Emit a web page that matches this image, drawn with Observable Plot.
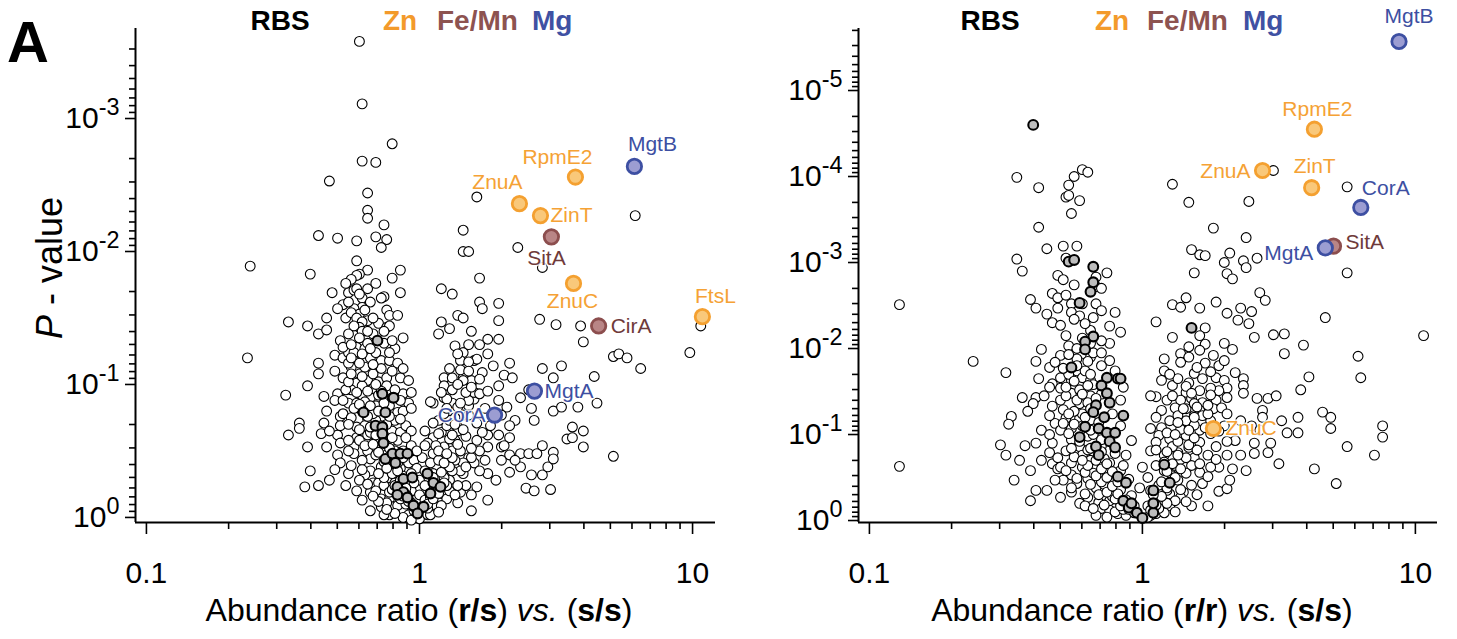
<!DOCTYPE html>
<html><head><meta charset="utf-8">
<script src="https://cdn.jsdelivr.net/npm/d3@7"></script>
<script src="https://cdn.jsdelivr.net/npm/@observablehq/plot@0.6"></script>
<style>
body{margin:0;background:#fff;}
#wrap{display:flex;width:1457px;height:639px;overflow:hidden;background:#fff;}
#wrap svg{background:none !important;}
</style></head><body><div id="wrap"></div>
<script>
// Values are [log10 abundance ratio, -log10 P]
const leftOpen = [
[-0.22,3.58],[-0.21,3.11],[-0.10,2.81],[-0.21,2.68],[-0.16,2.67],[-0.33,2.53],[-0.19,2.44],[-0.19,2.31],[-0.19,2.25],[-0.13,2.20],[-0.37,2.12],[-0.30,2.10],[-0.23,2.08],[-0.16,2.11],[-0.12,2.09],[-0.14,2.03],[0.21,2.41],[0.79,2.27],[0.16,2.16],[0.16,2.00],[0.18,2.00],[0.36,2.03],[0.45,1.88],[-0.62,1.89],[-0.40,1.83],[-0.07,1.86],[-0.10,1.80],[0.22,1.80],[-0.07,1.69],[0.08,1.72],[0.12,1.68],[0.22,1.62],[0.23,1.57],[0.29,1.61],[0.14,1.52],[0.16,1.50],[0.08,1.47],[0.29,1.48],[0.44,1.49],[0.50,1.45],[0.59,1.44],[1.03,1.44],[0.99,1.24],[0.71,1.21],[0.73,1.23],[0.76,1.20],[0.81,1.12],[0.60,1.32],[0.48,0.21],[0.71,0.46],
[-0.23,1.93],[-0.19,1.86],[-0.22,1.83],[-0.23,1.82],[-0.25,1.79],[-0.19,1.72],[-0.26,1.69],[-0.32,1.69],[-0.24,1.71],[-0.13,1.66],[-0.14,1.65],[-0.21,1.65],[-0.21,1.58],[-0.24,1.57],[-0.27,1.50],[-0.34,1.50],[-0.48,1.47],[-0.41,1.44],[-0.12,1.56],[-0.11,1.52],[-0.15,1.46],[-0.19,1.48],[-0.22,1.53],[-0.22,1.46],[-0.23,1.72],[-0.25,1.54],[-0.23,1.50],[-0.21,1.47],[-0.22,1.43],[-0.08,1.52],[-0.12,1.43],[-0.11,1.44],[-0.37,1.38],[-0.34,1.41],
[-0.29,1.33],[-0.23,1.28],[-0.31,1.22],[-0.28,1.20],[-0.24,1.18],[-0.20,1.27],[-0.13,1.31],[-0.09,1.27],[-0.06,1.35],[-0.10,1.33],[-0.25,1.13],[-0.22,1.08],[-0.18,1.20],[-0.14,1.18],[-0.11,1.18],[-0.08,1.16],[-0.37,1.16],[-0.37,1.08],[-0.28,1.05],[-0.23,1.01],[-0.19,1.03],[-0.15,1.02],[-0.12,1.05],[-0.07,1.05],[-0.04,1.03],[-0.41,0.99],[0.13,1.29],[0.16,1.24],[0.20,1.18],[0.15,1.18],[0.09,1.05],[0.12,1.05],[0.16,1.05],[0.09,0.99],[0.19,1.01],[0.21,0.93],[-0.19,1.31],[-0.63,1.20],[-0.26,1.24],[-0.30,0.93],[-0.49,0.92],[-0.35,0.91],[-0.25,0.96],[-0.34,0.80],[-0.29,0.76],[-0.44,0.71],[-0.44,0.67],[-0.35,0.71],[-0.48,0.62],[-0.36,0.63],[-0.34,0.53],[-0.41,0.53],[-0.30,0.62],[-0.30,0.47],[-0.29,0.41],[-0.31,0.36],[-0.40,0.35],[-0.26,0.33],[-0.42,0.23],[-0.37,0.24],[-0.18,0.19],[-0.14,0.08],[-0.17,0.26],[-0.23,0.20],[-0.27,0.96],[-0.22,0.93],[-0.26,0.86],[-0.23,0.86],[-0.18,0.90],[-0.06,0.93],[-0.04,0.86],[-0.28,0.78],[-0.25,0.75],[-0.19,0.74],[-0.08,0.79],[-0.06,0.80],[-0.29,0.69],[-0.23,0.68],[-0.23,0.60],[-0.19,0.62],[-0.10,0.65],[-0.07,0.64],[0.02,0.65],[0.05,0.60],[0.08,0.64],[0.10,0.69],[0.14,0.68],[0.05,0.86],[0.09,0.90],[0.12,0.86],[0.18,0.84],[0.20,0.89],[-0.29,0.56],[-0.24,0.53],[-0.19,0.50],[-0.11,0.56],[-0.06,0.50],[-0.24,0.48],[-0.18,0.44],[-0.04,0.41],[-0.02,0.43],[0.01,0.45],[0.05,0.48],[0.09,0.45],[0.12,0.50],[0.18,0.45],[0.20,0.41],[-0.18,0.35],[-0.14,0.38],[-0.07,0.37],[0.08,0.30],[0.11,0.28],[0.16,0.33],[-0.11,0.30],[-0.15,0.26],[-0.13,0.24],[-0.14,0.14],[-0.11,0.14],[-0.01,0.14],[0.08,0.18],[0.10,0.14],[-0.10,0.08],[-0.06,0.05],[0.05,0.07],[-0.04,0.02],[0.00,-0.01],[0.03,0.02],
[0.14,1.23],[0.25,1.34],[0.29,1.34],[0.25,1.23],[0.33,1.16],[0.21,1.19],[0.18,1.17],[0.15,1.11],[0.23,1.09],[0.45,1.12],[0.52,1.14],[0.49,1.05],[0.64,1.06],[0.19,1.03],[0.31,1.07],[0.34,1.05],[0.29,0.99],[0.37,0.90],[0.40,0.96],[0.04,0.87],[0.10,0.89],[0.18,0.88],[0.20,0.94],[0.22,0.93],[0.29,0.88],[0.32,0.83],[0.41,0.82],[0.49,0.80],[0.52,0.83],[0.58,0.83],[0.65,0.86],[0.42,0.73],[0.35,0.73],[0.56,0.68],[0.60,0.65],[0.54,0.59],[0.56,0.60],[0.60,0.53],[0.07,0.63],[0.25,0.62],[0.29,0.62],[0.33,0.60],[0.25,0.53],[0.30,0.53],[0.33,0.47],[0.37,0.48],[0.40,0.48],[0.43,0.48],[0.45,0.54],[0.49,0.49],[0.22,0.50],[0.19,0.45],[0.16,0.41],[0.33,0.34],[0.37,0.38],[0.41,0.32],[0.45,0.32],[0.47,0.38],[0.49,0.44],[0.25,0.33],[0.21,0.23],[0.15,0.19],[0.14,0.11],[0.04,0.11],[0.10,0.23],[0.05,0.33],[0.11,0.43],[0.09,0.53],[0.03,0.56],[0.07,0.73],[0.11,0.73],[0.14,0.65],[0.16,0.77],[0.21,0.71],[0.14,0.83],[0.08,0.94],[0.16,1.03]
];
const leftOpenCore = [
[-0.17,0.97],[-0.12,0.99],[-0.09,0.96],[-0.03,0.94],[-0.21,0.92],[-0.16,0.84],[-0.11,0.84],[-0.07,0.88],[-0.03,0.82],[-0.20,0.69],[-0.18,0.64],[-0.09,0.73],[-0.05,0.69],[-0.03,0.65],[-0.22,0.58],[-0.16,0.58],[-0.08,0.58],[-0.03,0.54],[-0.01,0.50],[-0.21,0.43],[-0.16,0.47],[-0.11,0.39],[-0.08,0.41],[-0.01,0.37],[-0.20,0.32],[-0.12,0.34],[-0.09,0.26],[-0.04,0.24],[0.00,0.28],[-0.16,0.20],[-0.11,0.19],[-0.03,0.20],[0.00,0.17],[-0.12,0.11],[-0.08,0.09],[-0.03,0.11],[0.00,0.07],[0.02,0.13],[-0.06,0.00],[-0.03,-0.02],[0.04,0.02],[0.06,0.09],[0.11,0.20],[0.10,0.37],[0.04,0.41],[0.02,0.54],[0.06,0.54],[0.13,0.58],[0.15,0.35],[0.02,0.24],[-0.31,0.88],[-0.33,0.65],[-0.26,0.58],[-0.25,0.39],[-0.22,0.28],[-0.21,0.13],[-0.18,0.05],[-0.11,0.02],[-0.27,0.24],[-0.33,0.28],
[0.02,0.35],[0.07,0.43],[0.10,0.24],[0.13,0.17],[0.17,0.24],[0.08,0.09],[0.03,0.07],[0.07,0.04],[0.19,0.17],[0.22,0.35],[0.21,0.58],[0.24,0.43],[0.28,0.28],[0.30,0.43],[0.26,0.69],[0.30,0.77],[0.33,0.69],[0.31,0.54],[0.35,0.43],[0.39,0.22],[0.42,0.20],[0.25,0.13],[0.19,0.05],
[-0.13,0.02],[-0.09,0.03],[-0.05,0.10],[-0.02,0.05],[-0.12,0.06],[-0.15,0.12],[-0.07,0.14],[-0.10,0.21],[-0.05,0.18],[-0.02,0.26],[-0.13,0.30],[-0.17,0.16],[-0.19,0.25],[-0.06,0.31],[-0.03,0.33],[-0.15,0.33],[-0.21,0.36],[-0.13,0.42],[-0.06,0.45],[-0.09,0.50],[-0.14,0.52],[-0.20,0.54],[-0.26,0.50],[-0.12,0.60],[-0.05,0.60],[-0.14,0.65],[-0.22,0.66],[-0.26,0.70],[-0.16,0.73],[-0.12,0.70],[-0.07,0.74],[-0.21,0.80],[-0.17,0.78],[-0.13,0.86],[-0.20,0.87],[-0.24,0.82],[-0.28,0.88],[-0.15,0.92],[-0.10,0.90],[-0.26,1.02],[-0.21,0.99],[-0.17,1.08],[-0.10,1.10],[-0.06,1.12],[-0.20,1.13],[-0.26,1.16],[-0.31,1.10],[-0.16,1.24],[-0.24,1.24],[-0.28,1.28],[-0.11,1.24],[-0.17,1.38],[-0.21,1.40],[-0.26,1.38],[-0.13,1.40],[-0.28,1.60],[-0.18,1.62],[-0.16,1.76],[-0.27,1.76],[-0.30,1.57],
[0.04,0.15],[0.06,0.20],[0.09,0.30],[0.12,0.35],[0.05,0.30],[0.14,0.24],[0.17,0.38],[0.13,0.43],[0.07,0.50],[0.15,0.50],[0.19,0.52],[0.11,0.59],[0.17,0.61],[0.23,0.64],[0.05,0.71],[0.09,0.78],[0.13,0.75],[0.18,0.77],[0.24,0.82],[0.27,0.76],[0.12,0.96],[0.17,0.94],[0.25,0.95],[0.11,1.12],[0.18,1.10],[0.27,1.14],[0.07,1.38],[0.11,1.42],[0.19,1.40],
[-0.02,0.08],[-0.04,0.12],[-0.06,0.16],[-0.08,0.18],[-0.05,0.22],[-0.09,0.24],[-0.07,0.28],[-0.10,0.33],[-0.08,0.35],[-0.12,0.37],[-0.10,0.44],[-0.12,0.47],[-0.15,0.49],[-0.11,0.52],[-0.17,0.55],[-0.13,0.57],[-0.10,0.60],[-0.16,0.62],[-0.18,0.68],[-0.14,0.69],[-0.11,0.76],[-0.19,0.76],[-0.15,0.80],[-0.18,0.84],[-0.22,0.85],[-0.14,0.95],[-0.19,0.95],[-0.23,0.94],[-0.16,1.00],[-0.21,1.06],[-0.25,1.08],[-0.14,1.12],[-0.22,1.16],[-0.17,1.15],[-0.25,1.20],[-0.21,1.23],[-0.18,1.27],[-0.25,1.30],[-0.22,1.35],[-0.19,1.40],[-0.24,1.44],[-0.17,1.50],[-0.20,1.56],[-0.26,1.62],[-0.22,1.68],
[0.03,0.10],[0.05,0.14],[0.07,0.18],[0.06,0.25],[0.09,0.26],[0.08,0.34],[0.11,0.38],[0.09,0.41],[0.12,0.45],[0.10,0.48],[0.14,0.55],[0.12,0.62],[0.16,0.66],[0.13,0.70],[0.10,0.82],[0.15,0.86],[0.19,0.98],[0.14,1.00],[0.22,1.04],[0.18,1.30],[0.22,1.30]
];
const leftRBS = [
[-0.154,1.33],[-0.136,0.93],[-0.095,0.90],[-0.205,0.79],[-0.125,0.79],[-0.161,0.69],[-0.136,0.68],[-0.136,0.63],[-0.132,0.56],[-0.125,0.44],[-0.099,0.48],[-0.070,0.48],[-0.044,0.48],[-0.088,0.41],[-0.059,0.29],[-0.026,0.30],[0.029,0.33],[0.051,0.26],[-0.081,0.23],[-0.059,0.19],[-0.081,0.17],[-0.044,0.15],[0.040,0.18],[0.077,0.23],[-0.022,0.09],[0.015,0.08],[-0.007,0.03]
];
const leftMarked = [
{name:"RpmE2",group:"Zn",lr:0.571,nlp:2.56},
{name:"ZnuA",group:"Zn",lr:0.366,nlp:2.36},
{name:"ZinT",group:"Zn",lr:0.443,nlp:2.27},
{name:"ZnuC",group:"Zn",lr:0.564,nlp:1.76},
{name:"FtsL",group:"Zn",lr:1.036,nlp:1.51},
{name:"SitA",group:"FeMn",lr:0.483,nlp:2.11},
{name:"CirA",group:"FeMn",lr:0.656,nlp:1.44},
{name:"MgtB",group:"Mg",lr:0.787,nlp:2.64},
{name:"MgtA",group:"Mg",lr:0.421,nlp:0.95},
{name:"CorA",group:"Mg",lr:0.275,nlp:0.77}
];
const rightOpen = [
[-0.46,3.99],[-0.38,3.87],[-0.25,4.00],[-0.22,4.08],[-0.20,4.05],[-0.27,3.90],[-0.28,3.76],[-0.27,3.78],[-0.23,3.72],[-0.26,3.57],[-0.38,3.41],[-0.29,3.19],[-0.24,3.19],[-0.35,3.16],[-0.28,3.05],[-0.46,3.04],[-0.44,2.90],[-0.13,2.88],[-0.31,2.85],[-0.29,2.80],[-0.25,2.74],[-0.17,2.72],[-0.17,2.83],[-0.33,2.64],[-0.31,2.59],[-0.41,2.57],[-0.39,2.47],[-0.31,2.47],[-0.26,2.52],[-0.22,2.52],[-0.17,2.52],[-0.15,2.44],[-0.10,2.42],[-0.26,2.42],[-0.18,2.36],[-0.23,2.38],[-0.33,2.30],[-0.25,2.34],[-0.08,2.19],[-0.89,2.51],
[-0.12,2.06],[-0.37,1.99],[-0.39,1.85],[-0.62,1.85],[-0.50,1.72],[-0.34,1.78],[-0.38,1.65],[-0.33,1.59],[-0.30,1.66],[-0.30,1.54],[-0.26,1.63],[-0.24,1.74],[-0.22,1.66],[-0.22,1.83],[-0.19,1.90],[-0.18,1.95],[-0.12,1.86],[-0.07,1.55],[-0.26,1.48],[-0.23,1.36],[-0.29,1.29],[-0.44,1.43],[-0.39,1.43],[-0.40,1.36],[-0.42,1.27],[-0.48,1.21],[-0.49,1.12],[-0.32,1.13],[-0.30,1.05],[-0.26,1.07],[-0.23,1.19],[-0.22,1.24],[-0.20,0.98],[-0.52,0.88],[-0.39,0.90],[-0.26,0.94],[-0.23,0.86],[-0.34,0.79],[-0.37,0.70],[-0.33,0.66],[-0.31,0.60],[-0.26,0.67],[-0.22,0.76],[-0.26,0.53],[-0.22,0.62],[-0.18,0.62],[-0.20,0.49],[-0.89,0.63],[-0.35,0.35],[-0.26,0.33],[-0.24,0.43],[-0.20,0.27],[-0.23,0.20],[-0.16,0.21],[-0.15,0.14],[-0.12,0.12],[-0.09,0.08],[-0.08,0.21],[-0.12,0.38],[-0.17,0.38],[-0.18,0.55],[-0.15,0.49],[-0.26,0.38],[-0.29,0.47],[-0.30,0.62],
[0.11,3.91],[0.17,3.70],[0.39,3.71],[0.48,4.07],[0.75,3.88],[0.26,3.40],[0.38,3.29],[0.18,3.15],[0.21,3.09],[0.23,3.08],[0.32,3.11],[0.30,3.00],[0.37,3.02],[0.38,2.94],[0.42,3.05],[0.31,2.87],[0.33,2.81],[0.19,2.88],[0.75,2.88],[0.43,2.65],[0.45,2.56],[0.16,2.59],[0.11,2.51],[0.14,2.48],[0.21,2.47],[0.27,2.54],[0.36,2.47],[0.40,2.43],[0.31,2.41],[0.35,2.33],[0.39,2.29],[0.05,2.31],[0.67,2.36],[-0.15,2.70],
[0.23,2.24],[0.11,2.13],[0.21,2.15],[0.23,2.05],[0.17,2.02],[0.41,2.13],[0.48,2.16],[0.52,2.17],[0.52,1.94],[0.59,2.04],[0.79,1.91],[1.03,2.15],[0.80,1.66],[0.61,1.67],[0.58,1.52],[0.30,2.06],[0.33,1.99],[0.26,1.92],[0.28,1.80],[0.23,1.83],[0.14,1.94],[0.08,1.88],[0.14,1.84],[0.19,1.71],[0.07,1.63],[0.11,1.57],[0.13,1.65],[0.17,1.60],[0.22,1.65],[0.27,1.66],[0.30,1.63],[0.31,1.54],[0.28,1.51],[0.25,1.54],[0.21,1.51],[0.16,1.49],[0.05,1.44],[0.09,1.40],[0.14,1.40],[0.18,1.42],[0.22,1.37],[0.27,1.40],[0.31,1.43],[0.37,1.65],[0.37,1.57],[0.37,1.48],[0.42,1.42],[0.46,1.42],[0.49,1.45],[0.07,1.28],[0.12,1.31],[0.16,1.30],[0.21,1.28],[0.26,1.30],[0.29,1.31],[0.31,1.24],[0.44,1.28],[0.44,1.20],[0.51,1.16],[0.53,1.02],[0.57,1.02],[0.57,1.20],[0.66,1.26],[0.69,1.20],[0.69,1.07],[0.88,1.10],[0.88,0.97],[0.75,0.86],[0.85,0.76],[0.63,0.60],[0.71,0.43],[0.50,0.66],[0.41,0.78],[0.46,0.79],[0.47,0.90],[0.41,0.90],[0.03,1.07],[0.07,1.08],[0.06,0.99],[0.05,0.91],[0.10,0.95],[0.16,0.99],[0.21,1.05],[0.25,1.01],[0.21,0.91],[0.17,0.85],[0.13,0.79],[0.19,0.73],[0.24,0.76],[0.28,0.62],[0.31,0.76],[0.33,0.60],[0.25,0.62],[0.21,0.56],[0.22,0.43],[0.18,0.41],[0.13,0.47],[0.15,0.33],[0.10,0.31],[0.07,0.23],[0.10,0.17],[0.14,0.27],[0.24,0.17],[0.28,0.34],[0.31,0.37],[0.32,0.47],[0.02,0.17],[0.05,0.08],[0.00,0.62],[0.02,0.50],[-0.01,0.38]
];
const rightOpenCore = [
[-0.19,2.21],[-0.15,2.09],[-0.28,2.15],[-0.25,1.98],[-0.30,1.92],[-0.15,1.80],[-0.10,1.74],[-0.19,1.63],[-0.36,1.45],[-0.30,1.40],[-0.19,1.45],[-0.08,1.40],[-0.34,1.22],[-0.28,1.19],[-0.17,1.10],[-0.08,1.10],[-0.04,0.93],[-0.37,1.05],[-0.43,0.87],[-0.15,0.87],[-0.06,0.76],[-0.28,0.81],[-0.12,0.67],[-0.41,0.58],[-0.08,0.58],[-0.32,0.47],[-0.39,0.35],[-0.30,0.27],[-0.21,0.17],[-0.12,0.23],[-0.04,0.29],[-0.06,0.06],[-0.03,0.17],[-0.17,0.06],[-0.41,0.23],[-0.47,0.47],[-0.45,0.70],[-0.50,0.76],
[0.03,0.81],[0.05,0.64],[0.08,0.58],[0.12,0.64],[0.18,0.64],[0.08,0.76],[0.03,0.35],[0.06,0.41],[0.12,0.23],[0.18,0.17],[0.05,0.26],[0.03,0.06],[0.08,0.09],[0.10,1.16],[0.16,1.16],[0.19,1.22],[0.25,1.16],[0.30,1.10],[0.34,0.93],[0.36,0.76],[0.38,0.58],[0.08,1.74],[0.03,1.45],[0.36,1.16],[0.40,1.10],[0.43,1.05],
[-0.13,0.04],[-0.10,0.10],[-0.07,0.13],[-0.14,0.18],[-0.18,0.14],[-0.11,0.28],[-0.16,0.30],[-0.21,0.31],[-0.08,0.36],[-0.14,0.42],[-0.19,0.42],[-0.24,0.49],[-0.11,0.46],[-0.05,0.48],[-0.13,0.55],[-0.21,0.56],[-0.28,0.58],[-0.07,0.64],[-0.14,0.72],[-0.19,0.70],[-0.25,0.74],[-0.31,0.73],[-0.10,0.78],[-0.20,0.82],[-0.26,0.84],[-0.33,0.90],[-0.12,0.98],[-0.18,1.00],[-0.27,1.01],[-0.34,1.00],[-0.22,1.10],[-0.29,1.13],[-0.19,1.17],[-0.11,1.24],[-0.25,1.27],[-0.33,1.33],[-0.20,1.37],[-0.28,1.45],[-0.15,1.47],[-0.23,1.52],[-0.34,1.55],[-0.18,1.58],[-0.27,1.70],[-0.21,1.74],[-0.32,1.84],[-0.24,1.88],[-0.15,1.95],[-0.27,2.03],[-0.22,2.12],[-0.12,2.26],[-0.30,2.27],[-0.21,2.29],[-0.35,2.40],[-0.28,2.62],
[0.02,0.04],[0.06,0.14],[0.09,0.20],[0.12,0.10],[0.14,0.36],[0.16,0.22],[0.09,0.35],[0.20,0.30],[0.11,0.52],[0.16,0.55],[0.24,0.51],[0.08,0.68],[0.14,0.71],[0.21,0.66],[0.27,0.71],[0.05,0.82],[0.11,0.86],[0.20,0.82],[0.27,0.86],[0.31,0.92],[0.09,1.02],[0.14,1.06],[0.19,1.11],[0.28,1.04],[0.05,1.20],[0.13,1.22],[0.22,1.22],[0.11,1.45],[0.19,1.36],[0.25,1.46],[0.16,1.56],[0.10,1.70],[0.20,1.78],[0.17,1.90],[0.25,1.73],[0.34,1.72],[0.21,1.98],[0.30,1.86],
[-0.03,0.09],[-0.05,0.13],[-0.08,0.17],[-0.06,0.24],[-0.10,0.25],[-0.09,0.31],[-0.13,0.33],[-0.11,0.40],[-0.15,0.45],[-0.09,0.45],[-0.13,0.50],[-0.17,0.52],[-0.11,0.57],[-0.15,0.60],[-0.20,0.64],[-0.13,0.66],[-0.17,0.70],[-0.22,0.70],[-0.15,0.80],[-0.19,0.84],[-0.23,0.92],[-0.15,0.94],[-0.19,1.05],[-0.25,1.12],[-0.16,1.14],[-0.21,1.20],[-0.27,1.24],[-0.19,1.30],[-0.24,1.40],[-0.17,1.42],[-0.22,1.47],[-0.28,1.55],[-0.20,1.57],[-0.25,1.62],[-0.19,1.70],[-0.29,1.77],[-0.24,1.80],[-0.20,1.85],[-0.27,1.93],[-0.24,2.00],[-0.19,2.06],
[0.03,0.12],[0.05,0.18],[0.07,0.28],[0.04,0.30],[0.09,0.38],[0.07,0.45],[0.12,0.50],[0.09,0.57],[0.14,0.60],[0.11,0.66],[0.16,0.73],[0.13,0.76],[0.09,0.80],[0.17,0.88],[0.13,0.92],[0.19,0.96],[0.12,1.00],[0.17,1.05],[0.23,1.08],[0.13,1.14],[0.19,1.20],[0.24,1.24],[0.15,1.30],[0.20,1.32],[0.24,1.34],[0.18,1.48]
];
const rightRBS = [
[-0.40,4.60],[-0.27,3.01],[-0.25,3.03],[-0.18,2.95],[-0.18,2.77],[-0.19,2.66],[-0.23,2.53],[-0.18,2.14],[-0.21,2.08],[-0.21,1.99],[-0.26,1.78],[-0.13,1.66],[-0.09,1.65],[-0.15,1.57],[-0.13,1.48],[-0.12,1.37],[-0.17,1.34],[-0.18,1.26],[-0.14,1.20],[-0.07,1.22],[-0.21,1.09],[-0.16,1.07],[-0.13,1.02],[-0.10,1.02],[-0.23,0.97],[-0.12,0.92],[-0.17,0.86],[-0.10,0.85],[-0.16,0.76],[-0.09,0.51],[-0.06,0.44],[-0.07,0.23],[-0.05,0.15],[0.18,2.24],[-0.08,1.65],[0.08,0.65],[0.10,0.44],[0.04,0.35],[-0.04,0.20],[-0.02,0.09],[0.04,0.09],[0.04,0.20],[0.00,0.03]
];
const rightMarked = [
{name:"RpmE2",group:"Zn",lr:0.63,nlp:4.55},
{name:"ZnuA",group:"Zn",lr:0.44,nlp:4.07},
{name:"ZinT",group:"Zn",lr:0.62,nlp:3.87},
{name:"ZnuC",group:"Zn",lr:0.26,nlp:1.07},
{name:"SitA",group:"FeMn",lr:0.70,nlp:3.19},
{name:"MgtB",group:"Mg",lr:0.94,nlp:5.57},
{name:"CorA",group:"Mg",lr:0.80,nlp:3.64},
{name:"MgtA",group:"Mg",lr:0.67,nlp:3.17}
];
const xMajorTicks = [0.1, 1, 10];
const xTickLabels = ["0.1", "1", "10"];
const xMinorTicks = [0.2,0.3,0.4,0.5,0.6,0.7,0.8,0.9,2,3,4,5,6,7,8,9];
const leftYMajor = [1, 0.1, 0.01, 0.001];
const rightYMajor = [1, 0.1, 0.01, 0.001, 0.0001, 0.00001];
const legendGroups = ["RBS", "Zn", "Fe/Mn", "Mg"];

// ---------- styles & layout ----------
const FONT = "'Liberation Sans', Arial, Helvetica, sans-serif";
const groupStyle = {
  Zn:   {fill:"#f9c87a", stroke:"#f4a030", text:"#f5a235"},
  FeMn: {fill:"#b98586", stroke:"#8c4e4e", text:"#6f3a3a"},
  Mg:   {fill:"#9c9dd2", stroke:"#3d4fa2", text:"#3d4fa2"}
};
const legendColor = {"RBS":"#000000","Zn":"#f39a2b","Fe/Mn":"#8d5350","Mg":"#3f51a3"};
function minorLogTicks(lo, hi) {
  const out = [];
  for (let e = -7; e <= 1; e++) for (let k = 2; k <= 9; k++) {
    const v = k * 10 ** e; if (v >= lo && v <= hi) out.push(v);
  }
  return out;
}
const panels = [
  {
    width: 729, marginLeft: 135, marginRight: 14,
    xDomain: [10 ** -1.040, 10 ** 1.084], yDomain: [10 ** 0.038, 10 ** -3.677],
    open: leftOpen.concat(leftOpenCore), rbs: leftRBS, marked: leftMarked, yMajor: leftYMajor,
    xTitle: ["r/s", "s/s"], panelLetter: "A",
    legendX: {"RBS": [280, "middle"], "Zn": [383, "start"], "Fe/Mn": [437, "start"], "Mg": [532, "start"]},
    labels: {
      MgtB:{dx:18,dy:-22,a:"middle"}, RpmE2:{dx:-18,dy:-20,a:"middle"}, ZnuA:{dx:-22,dy:-21,a:"middle"},
      ZinT:{dx:10,dy:0,a:"start"}, SitA:{dx:-5,dy:21,a:"middle"}, ZnuC:{dx:-1,dy:18,a:"middle"},
      FtsL:{dx:13,dy:-20,a:"middle"}, CirA:{dx:12,dy:0,a:"start"}, MgtA:{dx:10,dy:0,a:"start"},
      CorA:{dx:-9,dy:0,a:"end"}
    }
  },
  {
    width: 728, marginLeft: 129, marginRight: 20,
    xDomain: [10 ** -1.040, 10 ** 1.081], yDomain: [10 ** 0.023, 10 ** -5.721],
    open: rightOpen.concat(rightOpenCore), rbs: rightRBS, marked: rightMarked, yMajor: rightYMajor,
    xTitle: ["r/r", "s/s"], panelLetter: null,
    legendX: {"RBS": [261, "middle"], "Zn": [366, "start"], "Fe/Mn": [418, "start"], "Mg": [514, "start"]},
    labels: {
      MgtB:{dx:10,dy:-25,a:"middle"}, RpmE2:{dx:3,dy:-20,a:"middle"}, ZnuA:{dx:-12,dy:1,a:"end"},
      ZinT:{dx:3,dy:-21,a:"middle"}, CorA:{dx:25,dy:-19,a:"middle"}, SitA:{dx:12,dy:-4,a:"start"},
      MgtA:{dx:-12,dy:5,a:"end"}, ZnuC:{dx:12,dy:0,a:"start"}
    }
  }
];

function buildPanel(p) {
  const X = d => 10 ** d[0], Y = d => 10 ** -d[1];
  const MX = d => 10 ** d.lr, MY = d => 10 ** -d.nlp;
  const yMinor = minorLogTicks(p.yDomain[1], p.yDomain[0]);
  const order = {Zn: 0, FeMn: 1, Mg: 2};
  const marked = [...p.marked].sort((a, b) => order[a.group] - order[b.group]);
  const marks = [
    Plot.axisX(xMinorTicks, {tickSize: 7, strokeWidth: 1.6, tickFormat: () => null, label: null}),
    Plot.axisX(xMajorTicks, {tickSize: 12, strokeWidth: 1.6, tickPadding: 27,
      tickFormat: d => xTickLabels[xMajorTicks.indexOf(d)], label: null}),
    Plot.axisY(yMinor, {tickSize: 6, strokeWidth: 1.6, tickFormat: () => null, label: null}),
    Plot.axisY(p.yMajor, {tickSize: 10, strokeWidth: 1.6, tickPadding: 6,
      tickFormat: d => `10^${Math.round(Math.log10(d)) || 0}`, label: null}),
    Plot.ruleX([p.xDomain[0]], {stroke: "#000", strokeWidth: 2}),
    Plot.ruleY([p.yDomain[0]], {stroke: "#000", strokeWidth: 2}),
    Plot.dot(p.open, {x: X, y: Y, r: 4.9, fill: "white", stroke: "black", strokeWidth: 1.1}),
    Plot.dot(p.rbs, {x: X, y: Y, r: 4.9, fill: "#bdbdbd", stroke: "black", strokeWidth: 2.1}),
    Plot.dot(marked, {x: MX, y: MY, r: 7.2, fill: d => groupStyle[d.group].fill,
      stroke: d => groupStyle[d.group].stroke, strokeWidth: 2.8})
  ];
  for (const d of marked) {
    const L = p.labels[d.name];
    marks.push(Plot.text([d], {x: MX, y: MY, text: d => d.name, dx: L.dx, dy: L.dy,
      textAnchor: L.a, fill: groupStyle[d.group].text, fontSize: 21,
      stroke: "white", strokeWidth: 3, strokeOpacity: 0.85}));
  }
  const svg = Plot.plot({
    width: p.width, height: 639,
    marginLeft: p.marginLeft, marginRight: p.marginRight, marginTop: 28, marginBottom: 117,
    x: {type: "log", domain: p.xDomain},
    y: {type: "log", domain: p.yDomain},
    color: {type: "identity"},
    style: {fontFamily: FONT, fontSize: "30px", background: "none", overflow: "visible", color: "black"},
    marks
  });
  const s = d3.select(svg);
  // superscript exponents on y tick labels
  s.selectAll('g[aria-label="y-axis tick label"] text').each(function () {
    const m = this.textContent.match(/^10\^(-?\d+)$/);
    if (!m) return;
    const t = d3.select(this); t.text(null);
    t.append("tspan").text("10");
    t.append("tspan").attr("dy", "-0.55em").attr("font-size", "0.78em").text(m[1]);
  });
  const xs = svg.scale("x");
  // x-axis title
  const tt = s.append("text").attr("x", xs.apply(1)).attr("y", 621)
    .attr("text-anchor", "middle").attr("font-size", 32).attr("fill", "black");
  tt.append("tspan").text("Abundance ratio (");
  tt.append("tspan").attr("font-weight", "bold").text(p.xTitle[0]);
  tt.append("tspan").text(") ");
  tt.append("tspan").attr("font-style", "italic").text("vs.");
  tt.append("tspan").text(" (");
  tt.append("tspan").attr("font-weight", "bold").text(p.xTitle[1]);
  tt.append("tspan").text(")");
  // legend row
  for (const g of legendGroups) {
    const [lx, anchor] = p.legendX[g];
    s.append("text").attr("x", lx).attr("y", 30).attr("text-anchor", anchor)
      .attr("font-size", 28).attr("font-weight", "bold").attr("fill", legendColor[g]).text(g);
  }
  if (p.panelLetter) {
    s.append("text").attr("x", 28).attr("y", 62).attr("font-size", 58)
      .attr("font-weight", "bold").attr("fill", "black").text(p.panelLetter);
    const yl = s.append("text").attr("transform", "translate(62,268) rotate(-90)")
      .attr("text-anchor", "middle").attr("font-size", 36).attr("fill", "black");
    yl.append("tspan").attr("font-style", "italic").text("P");
    yl.append("tspan").text(" - value");
  }
  return svg;
}
const wrap = document.getElementById("wrap");
for (const p of panels) wrap.appendChild(buildPanel(p));
</script>
</body></html>
